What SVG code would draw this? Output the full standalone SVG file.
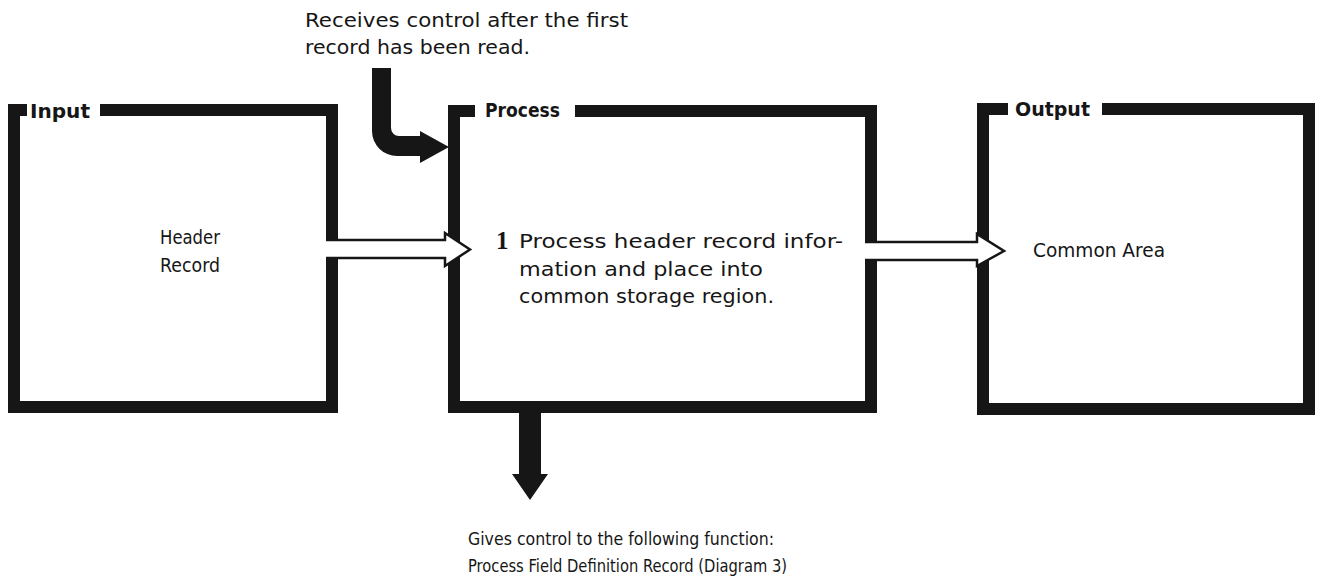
<svg xmlns="http://www.w3.org/2000/svg" width="1319" height="585" viewBox="0 0 1319 585">
  <style>
    .frame { fill: none; stroke: #161616; stroke-width: 12; stroke-linejoin: miter; stroke-linecap: butt; }
    .label { font-family: "DejaVu Sans", "Liberation Sans", sans-serif; font-weight: bold; font-size: 19px; fill: #161616; }
    .txt { font-family: "DejaVu Sans", "Liberation Sans", sans-serif; font-size: 19px; fill: #161616; }
    .small { font-size: 17.5px; }
    .num { font-family: "Liberation Serif", "DejaVu Serif", serif; font-weight: bold; font-size: 25px; fill: #161616; }
    .solid { fill: #161616; stroke: none; }
    .hollow-fill { fill: #ffffff; stroke: none; }
    .hollow-line { fill: none; stroke: #161616; stroke-width: 2.5; stroke-linejoin: miter; }
  </style>
  <rect width="1319" height="585" fill="#ffffff"/>

  <!-- entry note -->
  <g id="note-entry">
    <text class="txt" x="305" y="27" textLength="323" lengthAdjust="spacingAndGlyphs">Receives control after the first</text>
    <text class="txt" x="305" y="54" textLength="225" lengthAdjust="spacingAndGlyphs">record has been read.</text>
  </g>

  <!-- Input box -->
  <g id="input">
    <path class="frame" d="M27 110 H14 V407 H332 V110 H100"/>
    <text class="label" x="30" y="118" textLength="60" lengthAdjust="spacingAndGlyphs">Input</text>
    <text class="txt" x="190" y="244" text-anchor="middle" font-size="18" textLength="60" lengthAdjust="spacingAndGlyphs">Header</text>
    <text class="txt" x="190" y="272" text-anchor="middle" font-size="18" textLength="60" lengthAdjust="spacingAndGlyphs">Record</text>
  </g>

  <!-- Process box -->
  <g id="process">
    <path class="frame" d="M475 111 H454 V407 H871 V111 H575"/>
    <text class="label" x="485" y="117" textLength="75" lengthAdjust="spacingAndGlyphs">Process</text>
    <text class="num" x="496" y="249">1</text>
    <text class="txt" x="519" y="248" textLength="324" lengthAdjust="spacingAndGlyphs">Process header record infor-</text>
    <text class="txt" x="519" y="276" textLength="244" lengthAdjust="spacingAndGlyphs">mation and place into</text>
    <text class="txt" x="519" y="303" textLength="255" lengthAdjust="spacingAndGlyphs">common storage region.</text>
  </g>

  <!-- Output box -->
  <g id="output">
    <path class="frame" d="M1008 109 H983 V409 H1309 V109 H1102"/>
    <text class="label" x="1015" y="116" textLength="75" lengthAdjust="spacingAndGlyphs">Output</text>
    <text class="txt" x="1033" y="257" textLength="132" lengthAdjust="spacingAndGlyphs">Common Area</text>
  </g>

  <!-- exit note -->
  <g id="note-exit">
    <text class="txt small" x="468" y="545" textLength="306" lengthAdjust="spacingAndGlyphs">Gives control to the following function:</text>
    <text class="txt small" x="468" y="572" textLength="319" lengthAdjust="spacingAndGlyphs">Process Field Definition Record (Diagram 3)</text>
  </g>

  <g id="connectors">
    <!-- control in: bent solid arrow -->
    <path class="solid" d="M372 68 H391 V128 A8 8 0 0 0 399 136 H420 V131 L449 147 L420 163 V156 H397 A25 25 0 0 1 372 131 Z"/>
    <!-- control out: solid arrow down -->
    <path class="solid" d="M519 412 H541 V474 H548 L530 500 L512 474 H519 Z"/>
    <!-- data: Input to Process -->
    <path class="hollow-fill" d="M326 240 H445 V233 L470 249.5 L445 266 V258 H326 Z"/>
    <path class="hollow-line" d="M326 240 H445 V233 L470 249.5 L445 266 V258 H326"/>
    <!-- data: Process to Output -->
    <path class="hollow-fill" d="M865 242 H977 V234 L1004 251 L977 266 V260 H865 Z"/>
    <path class="hollow-line" d="M865 242 H977 V234 L1004 251 L977 266 V260 H865"/>
  </g>
</svg>
